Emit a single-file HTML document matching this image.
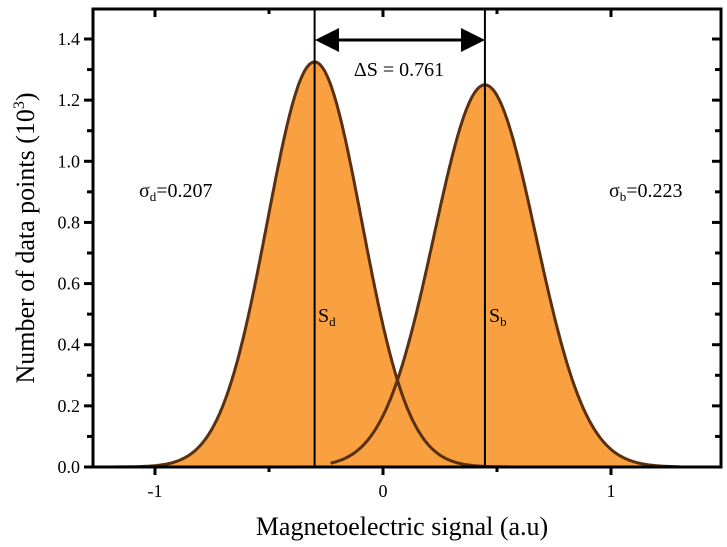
<!DOCTYPE html>
<html><head><meta charset="utf-8"><style>
body{margin:0;background:#fff;}
svg{display:block;font-family:"Liberation Serif",serif;}
</style></head><body>
<svg id="c" width="727" height="547"></svg>
<script>
const xTicks=[-1,0,1];
const xTickLabels=["-1","0","1"];
const yTicks=[0,0.2,0.4,0.6,0.8,1.0,1.2,1.4];
const yTickLabels=["0.0","0.2","0.4","0.6","0.8","1.0","1.2","1.4"];
const peakCenters=[-0.3,0.447];
const peakSigmas=[0.207,0.223];
const peakHeights=[1.325,1.25];
const curveStarts=[-1.25,-0.23];
const curveEnds=[0.55,1.3];
const L=93,R=721,T=9,B=467;
const X=v=>383+v*228;
const Y=v=>B-v*(B-39)/1.4;
const NS="http://www.w3.org/2000/svg";
const svg=document.getElementById('c');
function mk(t,a,p){const e=document.createElementNS(NS,t);for(const k in a)e.setAttribute(k,a[k]);(p||svg).appendChild(e);return e;}
function g(x,i){return peakHeights[i]*Math.exp(-((x-peakCenters[i])**2)/(2*peakSigmas[i]**2));}
let d="M"+X(-1.3)+","+B;
for(let x=-1.3;x<=1.45;x+=0.005){d+=" L"+X(x).toFixed(1)+","+Y(Math.max(g(x,0),g(x,1))).toFixed(1);}
d+=" L"+X(1.45)+","+B+" Z";
let h=mk('path',{d:d,fill:'#F9A040'});


for(let i=0;i<2;i++){
 let p="";
 for(let x=curveStarts[i];x<=curveEnds[i];x+=0.005){p+=(p?" L":"M")+X(x).toFixed(1)+","+Y(g(x,i)).toFixed(1);}
 let c=mk('path',{d:p,fill:'none',stroke:'#5a3010','stroke-width':3});
 
 
 let v=mk('line',{x1:X(peakCenters[i]),x2:X(peakCenters[i]),y1:T,y2:B,stroke:'#000','stroke-width':2});
 
 
}
let fr=mk('rect',{x:L,y:T,width:R-L,height:B-T,fill:'none',stroke:'#000','stroke-width':3});


for(let v=-1;v<=1.01;v+=0.5){
 const maj=Math.abs(v-Math.round(v))<0.01;
 mk('line',{x1:X(v),x2:X(v),y1:B,y2:B+(maj?8:5),stroke:'#000','stroke-width':3});
 mk('line',{x1:X(v),x2:X(v),y1:T,y2:T+(maj?8:5),stroke:'#000','stroke-width':3});
}
xTicks.forEach((v,i)=>{let t=mk('text',{x:X(v),y:B+30,'text-anchor':'middle','font-size':18});t.textContent=xTickLabels[i];

});
for(let k=0;k<=14;k++){const v=k*0.1,maj=k%2==0;
 mk('line',{x1:L,x2:L-(maj?9:6),y1:Y(v),y2:Y(v),stroke:'#000','stroke-width':3});
 mk('line',{x1:R,x2:R-(maj?9:6),y1:Y(v),y2:Y(v),stroke:'#000','stroke-width':3});}
yTicks.forEach((v,i)=>{let t=mk('text',{x:L-13,y:Y(v)+6,'text-anchor':'end','font-size':18});t.textContent=yTickLabels[i];

});
</script>
<svg width="727" height="547" style="position:absolute;left:0;top:0;font-family:'Liberation Serif',serif">
<defs><marker id="ah" markerWidth="8" markerHeight="8" refX="7" refY="4" orient="auto-start-reverse"><path d="M0,0 L8,4 L0,8 Z" fill="#000"/></marker></defs>
<line x1="318" y1="40" x2="482" y2="40" stroke="#000" stroke-width="3" marker-start="url(#ah)" marker-end="url(#ah)"/>
<text x="399" y="76" text-anchor="middle" font-size="20">ΔS = 0.761</text>
<text x="139" y="197" font-size="20">σ<tspan font-size="13" dy="4">d</tspan><tspan dy="-4">=0.207</tspan></text>
<text x="609" y="197" font-size="20">σ<tspan font-size="13" dy="4">b</tspan><tspan dy="-4">=0.223</tspan></text>
<text x="318" y="322" font-size="20">S<tspan font-size="13" dy="4">d</tspan></text>
<text x="489" y="322" font-size="20">S<tspan font-size="13" dy="4">b</tspan></text>
<text x="402" y="535" text-anchor="middle" font-size="26">Magnetoelectric signal (a.u)</text>
<text transform="translate(34,238) rotate(-90)" text-anchor="middle" font-size="26">Number of data points (10<tspan font-size="16" dy="-10">3</tspan><tspan dy="10">)</tspan></text>
</svg>
</body></html>
